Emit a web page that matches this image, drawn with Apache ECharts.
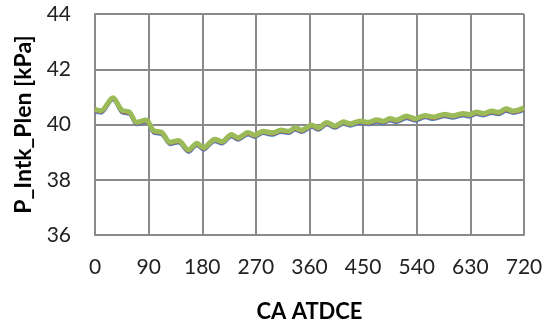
<!DOCTYPE html>
<html><head><meta charset="utf-8">
<script src="https://cdn.jsdelivr.net/npm/echarts@6/dist/echarts.min.js"></script>
<style>html,body{margin:0;padding:0;background:#fff}#c{width:546px;height:328px}</style>
</head><body><div id="c"></div>
<script>
const xTitle = 'CA ATDCE';
const yTitle = 'P_Intk_Plen [kPa]';
const ca = [0,10,30,45,58,70,86,98,112,126,140,157,171,182,201,213,229,240,257,268,282,298,312,325,336,347,364,375,389,403,417,428,445,459,473,484,495,506,523,537,554,568,587,600,618,628,640,652,666,677,690,702,720];
const green = [40.55,40.50,40.97,40.52,40.45,40.08,40.16,39.78,39.72,39.36,39.42,39.08,39.32,39.16,39.47,39.38,39.64,39.52,39.71,39.62,39.76,39.70,39.80,39.76,39.88,39.80,39.98,39.88,40.07,39.95,40.10,40.03,40.13,40.08,40.17,40.12,40.22,40.16,40.31,40.21,40.33,40.27,40.37,40.32,40.40,40.36,40.45,40.40,40.49,40.44,40.57,40.49,40.60];
const red = [40.50,40.45,40.92,40.46,40.40,40.03,40.11,39.73,39.67,39.31,39.37,39.03,39.27,39.11,39.42,39.33,39.59,39.47,39.66,39.57,39.71,39.65,39.75,39.71,39.83,39.75,39.93,39.83,40.02,39.90,40.05,39.98,40.08,40.03,40.12,40.07,40.17,40.11,40.25,40.16,40.28,40.22,40.32,40.27,40.35,40.31,40.40,40.35,40.44,40.39,40.51,40.44,40.54];
const blue = [40.46,40.41,40.89,40.42,40.36,39.99,40.07,39.69,39.63,39.27,39.33,38.99,39.23,39.07,39.38,39.29,39.55,39.43,39.62,39.53,39.67,39.61,39.71,39.67,39.79,39.71,39.89,39.79,39.98,39.86,40.01,39.94,40.04,39.99,40.08,40.03,40.13,40.07,40.21,40.12,40.24,40.18,40.28,40.23,40.31,40.27,40.36,40.31,40.40,40.35,40.47,40.40,40.51];

const pairs = a => ca.map((x,i)=>[x,a[i]]);
const font = 'Lato, "Liberation Sans", sans-serif';
const gridColor = '#8a8a8a';
const chart = echarts.init(document.getElementById('c'), null, {renderer:'canvas'});
chart.setOption({
  animation:false,
  backgroundColor:'#fff',
  grid:{left:95,right:22,top:14,bottom:90,containLabel:false},
  xAxis:{type:'value',min:0,max:720,interval:90,
    name:xTitle,nameLocation:'middle',nameGap:66,
    nameTextStyle:{fontFamily:font,fontWeight:'bold',fontSize:22,color:'#000'},
    axisLine:{show:true,lineStyle:{color:gridColor,width:2}},
    axisTick:{show:false},
    axisLabel:{fontFamily:font,fontSize:21,color:'#222',margin:22},
    splitLine:{show:true,lineStyle:{color:gridColor,width:2}}},
  yAxis:{type:'value',min:36,max:44,interval:2,
    name:yTitle,nameLocation:'middle',nameGap:60,nameRotate:90,
    nameTextStyle:{fontFamily:font,fontWeight:'bold',fontSize:23,color:'#000'},
    axisLine:{show:true,lineStyle:{color:gridColor,width:2}},
    axisTick:{show:false},
    axisLabel:{fontFamily:font,fontSize:21,color:'#222',margin:24},
    splitLine:{show:true,lineStyle:{color:gridColor,width:2}}},
  series:[
    {type:'line',data:pairs(blue),showSymbol:false,smooth:0.3,lineStyle:{color:'#4F81BD',width:3},z:2},
    {type:'line',data:pairs(red),showSymbol:false,smooth:0.3,lineStyle:{color:'#C0504D',width:3},z:3},
    {type:'line',data:pairs(green),showSymbol:false,smooth:0.3,lineStyle:{color:'#9BBB59',width:5},z:4}
  ]
});
</script></body></html>
